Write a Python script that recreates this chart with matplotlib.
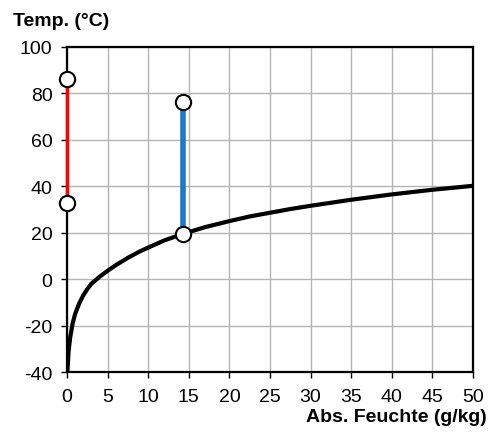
import matplotlib
matplotlib.use('Agg')
import matplotlib.pyplot as plt

plt.rcParams['font.family'] = ['Liberation Sans', 'DejaVu Sans']
plt.rcParams['axes.unicode_minus'] = False

# Dew point curve (absolute humidity g/kg -> temperature °C)
curve_x = [0.05, 0.2, 0.4, 0.7, 1.0, 1.5, 2.0, 2.5, 3.0, 4.0, 5.0, 6.0, 7.5, 9.0, 10, 12, 14.3,
           17, 20, 22.5, 25, 27.5, 30, 35, 40, 45, 50]
curve_y = [-40, -31, -25, -19, -15, -10.5, -7, -4.3, -2, 1, 3.6, 6, 9.2, 12, 13.6, 16.7, 19.5,
           22.4, 25, 27, 28.6, 30.2, 31.6, 34.2, 36.5, 38.5, 40.2]

# Vertical segments (x, bottom, top)
red_x = [0, 0]
red_y = [32.8, 86.2]
blue_x = [14.3, 14.3]
blue_y = [19.4, 76.4]

x_ticks = [0, 5, 10, 15, 20, 25, 30, 35, 40, 45, 50]
y_ticks = [-40, -20, 0, 20, 40, 60, 80, 100]

fig = plt.figure(figsize=(5.01, 4.39), dpi=100)
ax = fig.add_axes([0.1337, 0.1503, 0.8104, 0.7404])

ax.set_xlim(0, 50)
ax.set_ylim(-40, 100)
ax.set_xticks(x_ticks)
ax.set_yticks(y_ticks)
ax.grid(True, color='#b4b4b4', linewidth=1.0)
ax.set_axisbelow(True)

for s in ax.spines.values():
    s.set_color('black')
    s.set_linewidth(1.6)

ax.tick_params(direction='out', length=4.5, width=1, colors='black', labelsize=14)
ax.tick_params(axis='x', pad=7)
ax.tick_params(axis='y', pad=6)

ax.plot(curve_x, curve_y, color='black', linewidth=3, solid_capstyle='butt', zorder=3)
ax.plot(red_x, red_y, color='#ff0000', linewidth=2.5, zorder=4, clip_on=False)
ax.plot(blue_x, blue_y, color='#1f78c8', linewidth=4, zorder=4)
ax.plot(red_x, red_y, linestyle='none', marker='o', markersize=11,
        markerfacecolor='white', markeredgecolor='black', markeredgewidth=1.5, zorder=5, clip_on=False)
ax.plot(blue_x, blue_y, linestyle='none', marker='o', markersize=11,
        markerfacecolor='white', markeredgecolor='black', markeredgewidth=1.5, zorder=5)

fig.text(0.026, 0.95, 'Temp. (°C)', fontsize=14, fontweight='bold', ha='left', va='center')
fig.text(0.972, 0.048, 'Abs. Feuchte (g/kg)', fontsize=14, fontweight='bold', ha='right', va='center')

fig.savefig('out.png', dpi=100)
